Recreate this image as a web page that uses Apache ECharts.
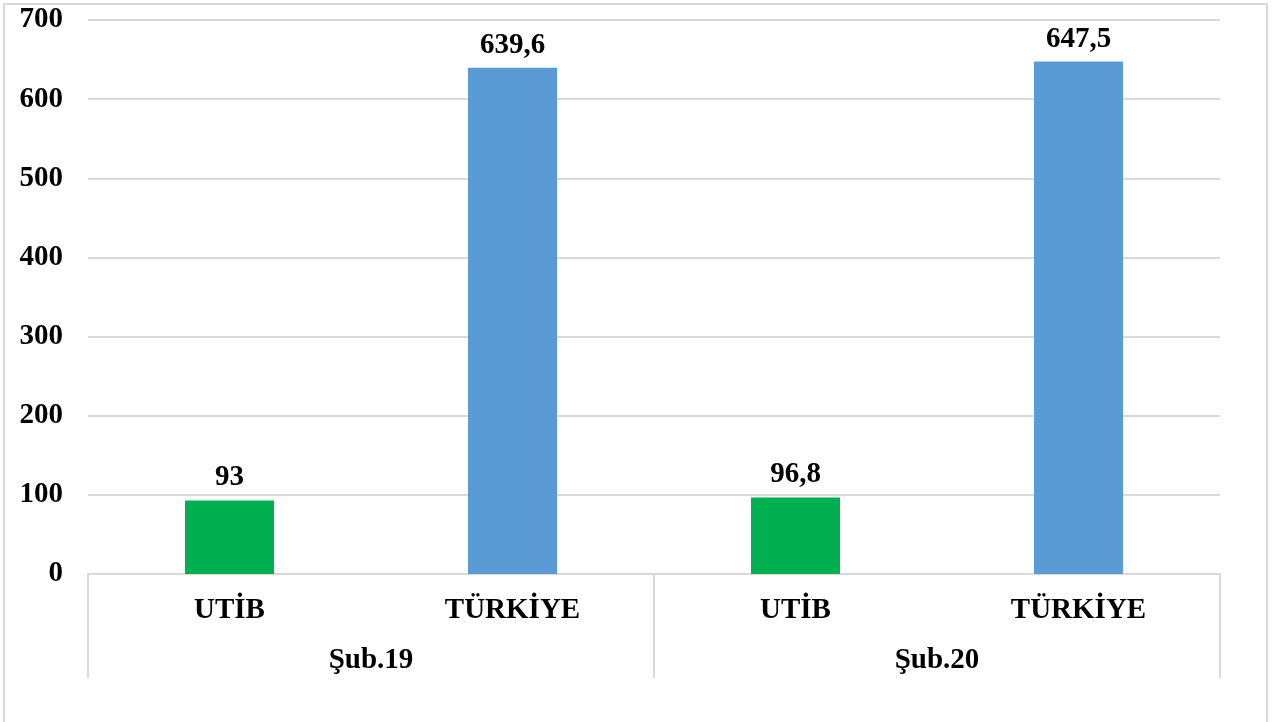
<!DOCTYPE html>
<html>
<head>
<meta charset="utf-8">
<script src="https://cdn.jsdelivr.net/npm/echarts@6/dist/echarts.min.js"></script>
<style>
    html, body { margin: 0; padding: 0; background: #fff; }
    #chart { width: 1280px; height: 722px; }
</style>
</head>
<body>
<div id="chart"></div>
<script>
    // kategori ve dönem etiketleri
    var categories = ['UTİB', 'TÜRKİYE', 'UTİB', 'TÜRKİYE'];
    var periods = ['Şub.19', 'Şub.20'];
    var values = [93, 639.6, 96.8, 647.5];
    var barColors = ['#00b050', '#5b9bd5', '#00b050', '#5b9bd5'];

    var fontFamily = '"Liberation Serif", "Times New Roman", serif';
    var gridColor = '#d9d9d9';

    var chart = echarts.init(document.getElementById('chart'));

    var seriesdata = values.map(function (v, i) {
        return { value: v, itemStyle: { color: barColors[i] } };
    });

    chart.setOption({
        animation: false,
        grid: {
            left: 88,
            right: 60,
            top: 20,
            bottom: 148
        },
        graphic: [{
            type: 'rect',
            shape: { x: 4, y: 4, width: 1263, height: 740 },
            style: { fill: 'none', stroke: gridColor, lineWidth: 2 },
            silent: true
        }],
        xAxis: [
            {
                type: 'category',
                data: categories,
                axisTick: { show: false },
                axisLine: { lineStyle: { color: gridColor, width: 2 } },
                axisLabel: {
                    margin: 22,
                    color: '#000',
                    fontFamily: fontFamily,
                    fontWeight: 'bold',
                    fontSize: 29
                }
            },
            {
                type: 'category',
                data: periods,
                position: 'bottom',
                axisLine: { show: false },
                axisTick: {
                    show: true,
                    length: 104,
                    lineStyle: { color: gridColor, width: 2 }
                },
                axisLabel: {
                    margin: 72,
                    color: '#000',
                    fontFamily: fontFamily,
                    fontWeight: 'bold',
                    fontSize: 29
                }
            }
        ],
        yAxis: {
            type: 'value',
            min: 0,
            max: 700,
            interval: 100,
            axisLine: { show: false },
            axisTick: { show: false },
            splitLine: { lineStyle: { color: gridColor, width: 2 } },
            axisLabel: {
                margin: 25,
                color: '#000',
                fontFamily: fontFamily,
                fontWeight: 'bold',
                fontSize: 29,
                padding: [4, 0, 0, 0]
            }
        },
        series: [
            {
                type: 'bar',
                xAxisIndex: 0,
                barWidth: 89,
                data: seriesdata,
                label: {
                    show: true,
                    position: 'top',
                    distance: 8,
                    color: '#000',
                    fontFamily: fontFamily,
                    fontWeight: 'bold',
                    fontSize: 29,
                    formatter: function (p) {
                        return String(p.value).replace('.', ',');
                    }
                }
            }
        ]
    });
</script>
</body>
</html>
